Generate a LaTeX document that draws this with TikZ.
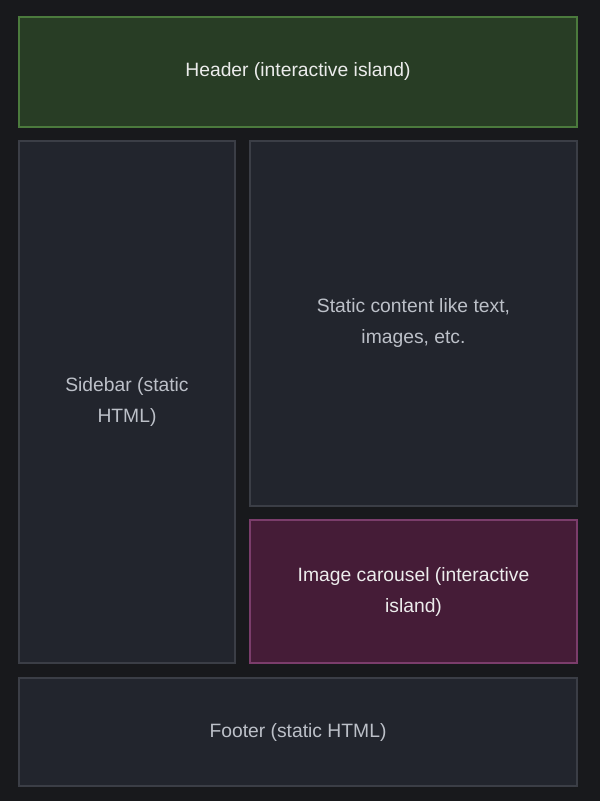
\documentclass[tikz,border=0pt]{standalone}
\usepackage{fontspec}
\setmainfont{Liberation Sans}
\definecolor{pageBg}{HTML}{18191C}
\definecolor{islandFill}{HTML}{283D25}
\definecolor{islandLine}{HTML}{4B7A3D}
\definecolor{staticFill}{HTML}{22252D}
\definecolor{staticLine}{HTML}{3B3E46}
\definecolor{carouselFill}{HTML}{451C37}
\definecolor{carouselLine}{HTML}{7B3D6B}
\definecolor{staticText}{HTML}{BCC0C8}
\definecolor{islandText}{HTML}{ECECEC}
\begin{document}
\begin{tikzpicture}
[x=1pt,y=-1pt,%
  boxDecorate/.style={shape=rectangle,draw,line width=1.6pt,align=center,%
    font=\fontsize{19.3}{31}\selectfont,inner sep=0pt},%
  staticBox/.style={boxDecorate,fill=staticFill,draw=staticLine,text=staticText},%
  headerBox/.style={boxDecorate,fill=islandFill,draw=islandLine,text=islandText},%
  carouselBox/.style={boxDecorate,fill=carouselFill,draw=carouselLine,text=islandText}]
%% page background
\fill[pageBg] (0,0) rectangle (600,801);
\useasboundingbox (0,0) rectangle (600,801);
%% interactive islands
\node (header) at (298,72) [headerBox,minimum width=558pt,minimum height=110pt]
  {Header (interactive island)};
\node (carousel) at (413.5,591.5) [carouselBox,minimum width=327pt,minimum height=143pt]
  {Image carousel (interactive\\island)};
%% static parts
\node (sidebar) at (127,402) [staticBox,minimum width=216pt,minimum height=522pt]
  {Sidebar (static\\HTML)};
\node (content) at (413.5,323.5) [staticBox,minimum width=327pt,minimum height=365pt]
  {Static content like text,\\images, etc.};
\node (footer) at (298,732) [staticBox,minimum width=558pt,minimum height=108pt]
  {Footer (static HTML)};
\end{tikzpicture}
\end{document}
